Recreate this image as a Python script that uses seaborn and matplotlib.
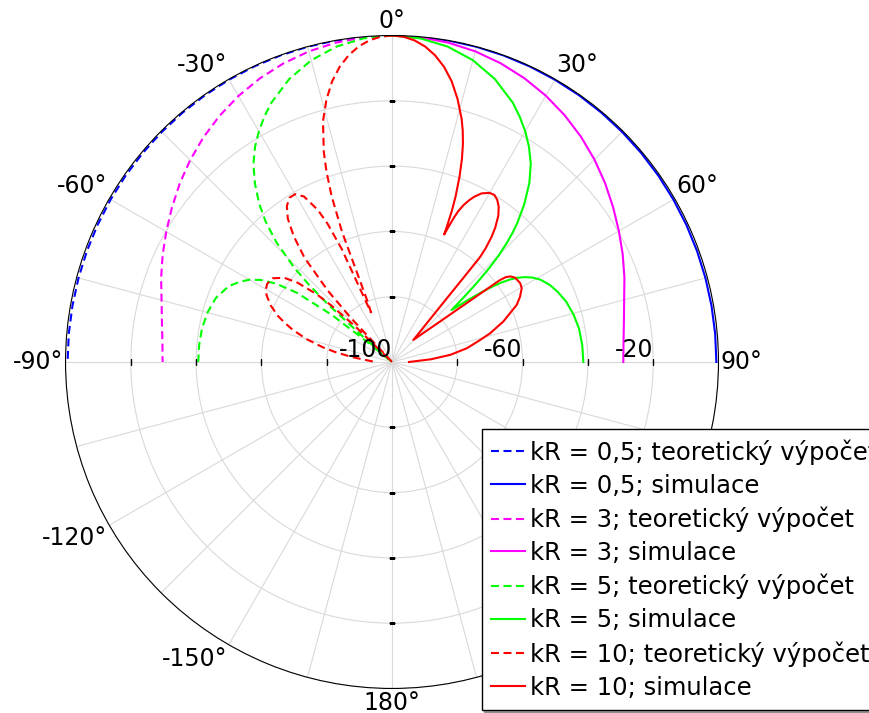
#!/usr/bin/python3

import numpy as np
import matplotlib
matplotlib.use("Agg")
import matplotlib.pyplot as plt
import seaborn as sns

# directivity in dB, theory is drawn on the left half (negative angles),
# simulation on the right half

# kR = 0,5
ang_05 = [0, 5, 10, 15, 20, 25, 30, 35, 40, 45, 50, 55, 60, 65, 70, 75, 80, 85, 90]
db_05_teo = [0.0, -0.01, -0.02, -0.04, -0.07, -0.11, -0.16, -0.21, -0.26, -0.31,
             -0.37, -0.42, -0.47, -0.52, -0.56, -0.59, -0.61, -0.62, -0.63]
db_05_sim = [0.0, -0.01, -0.02, -0.05, -0.08, -0.12, -0.17, -0.22, -0.27, -0.33,
             -0.38, -0.44, -0.49, -0.54, -0.58, -0.61, -0.63, -0.64, -0.65]

# kR = 3
ang_3 = [0, 5, 10, 15, 20, 25, 30, 35, 40, 45, 50, 55, 60, 65, 70, 75, 80, 85, 90]
db_3_teo = [0.0, -0.17, -0.69, -1.52, -2.69, -4.17, -5.92, -7.93, -10.15, -12.56,
            -15.09, -17.68, -20.16, -22.48, -24.74, -26.93, -28.44, -29.41, -29.74]
db_3_sim = [0.0, -0.17, -0.68, -1.49, -2.64, -4.09, -5.80, -7.77, -9.95, -12.31,
            -14.79, -17.33, -19.76, -22.03, -24.25, -26.39, -27.87, -28.82, -29.15]

# kR = 5
ang_5_teo = [0, 5, 10, 15, 20, 25, 27.5, 30, 32.5, 35, 37.5, 40, 42, 44, 46, 47, 48, 49,
             50, 51, 52, 54, 56, 58, 60, 62, 65, 70, 75, 80, 85, 90]
db_5_teo = [0.0, -0.48, -1.91, -4.34, -7.82, -12.45, -15.3, -18.44, -21.9, -26.0, -31.0,
            -36.7, -42.2, -49.0, -58.3, -64.7, -73.5, -88.7, -100.0, -89.8, -76.4, -63.8,
            -57.0, -52.6, -49.6, -47.5, -44.9, -42.6, -41.5, -40.9, -40.7, -40.65]
ang_5_sim = [0, 5, 10, 15, 20, 25, 27.5, 30, 32.5, 35, 37.5, 40, 42, 43, 44, 45, 46, 47,
             48, 48.9, 50, 51, 52, 53, 54, 55, 56, 57.5, 59, 61, 64, 67, 71, 75.5, 80, 85, 90]
db_5_sim = [0.0, -0.5, -1.9, -4.3, -7.8, -12.4, -15.3, -18.4, -21.9, -25.9, -30.9,
            -37.0, -42.6, -45.8, -49.5, -53.6, -58.6, -64.5, -70.5, -75.8, -72.8, -69.2,
            -65.5, -61.8, -58.6, -56.0, -53.9, -51.6, -49.8, -48.0, -46.2, -44.9, -43.5,
            -42.5, -41.8, -41.5, -41.4]

# kR = 10
ang_10_teo = [0, 2, 4, 6, 8, 10, 12, 14, 16, 18, 19, 20, 21, 22, 23, 24, 25, 26, 28, 30,
              32, 34, 36, 38, 40, 42, 43, 44, 45, 46, 47, 48, 50, 52, 55, 58, 60, 62, 65,
              68, 70, 72, 75, 78, 80, 83, 86, 90]
db_10_teo = [0.0, -0.30, -1.23, -2.79, -5.06, -8.08, -12.0, -17.07, -23.3, -32.4, -38.4,
             -45.9, -57.2, -80.3, -83.5, -62.0, -53.2, -48.2, -42.6, -40.65, -40.7, -42.4,
             -45.7, -51.1, -58.3, -70.7, -81.2, -100.0, -100.0, -84.3, -74.9, -69.1, -62.2,
             -58.1, -55.3, -54.9, -55.4, -56.5, -59.0, -62.3, -65.1, -68.0, -72.9, -78.3,
             -82.2, -87.6, -92.3, -94.9]
ang_10_sim = [0, 2, 4, 6, 8, 10, 12, 14, 16, 17, 18, 19, 20, 21, 21.6, 22.0, 22.25, 22.7,
              23.2, 23.7, 24.5, 25.5, 26.5, 28, 30, 31.5, 33, 34.5, 36, 37.5, 38.5, 39.5,
              40.0, 40.3, 40.7, 41.6, 44.1, 46.9, 49.3, 51.2, 52.2, 52.8, 53.3, 54.2, 55.6,
              58.4, 60.4, 63, 65.4, 70, 73.7, 76, 79.6, 83, 86, 90]
db_10_sim = [0.0, -0.3, -1.25, -2.85, -5.15, -8.2, -12.1, -17.0, -22.6, -25.9, -29.7,
             -34.2, -39.5, -45.6, -50.2, -54.6, -57.8, -55.1, -52.0, -49.6, -47.2, -45.1,
             -43.4, -41.5, -40.2, -40.0, -40.8, -42.3, -44.6, -48.0, -51.0, -55.0, -58.0,
             -65.6, -73.9, -82.3, -90.6, -87.4, -82.6, -74.6, -66.5, -58.5, -56.5, -55.2,
             -54.3, -53.9, -54.3, -56.0, -58.0, -63.7, -68.7, -72.2, -76.7, -82.0, -88.0,
             -94.8]

kr_labels = ["0,5", "3", "5", "10"]
colors = ["#0000ff", "#ff00ff", "#00ff00", "#ff0000"]

ring_ticks = [-80, -60, -40, -20, 0]
ring_labels = [-100, -60, -20]
angle_labels = [-150, -120, -90, -60, -30, 0, 30, 60, 90, 120, 150, 180]


def main():
    plt.rcParams["axes.unicode_minus"] = False
    plt.rcParams["font.family"] = ["DejaVu Sans"]

    fig = plt.figure(figsize=(8.69, 7.13), dpi=100)
    ax = fig.add_axes([0.0754, 0.0344, 0.7514, 0.9158], projection="polar")
    ax.set_theta_zero_location("N")
    ax.set_theta_direction(-1)

    teo = [(ang_05, db_05_teo), (ang_3, db_3_teo), (ang_5_teo, db_5_teo), (ang_10_teo, db_10_teo)]
    sim = [(ang_05, db_05_sim), (ang_3, db_3_sim), (ang_5_sim, db_5_sim), (ang_10_sim, db_10_sim)]

    for (a_t, d_t), (a_s, d_s), k, c in zip(teo, sim, kr_labels, colors):
        sns.lineplot(x=-np.deg2rad(a_t), y=np.clip(d_t, -100, 0), ax=ax, color=c,
                     linewidth=1.5, linestyle=(0, (3.8, 2.2)), sort=False,
                     estimator=None, legend=False,
                     label="kR = %s; teoretický výpočet" % k)
        sns.lineplot(x=np.deg2rad(a_s), y=np.clip(d_s, -100, 0), ax=ax, color=c,
                     linewidth=1.5, sort=False, estimator=None, legend=False,
                     label="kR = %s; simulace" % k)

    deg = np.arange(-165, 181, 15)
    ax.set_xticks(np.deg2rad(deg))
    ax.set_xticklabels([])
    ax.tick_params(axis="x", length=0)
    ax.set_xlim(-np.pi, np.pi)

    ax.set_rlim(-100, 0)
    ax.set_yticks(ring_ticks)
    ax.set_yticklabels([])
    ax.tick_params(axis="y", length=0)

    ax.grid(True, color="#d9d9d9", linewidth=0.8)
    ax.spines["polar"].set_linewidth(0.8)
    ax.spines["polar"].set_color("black")

    # angle labels sit just outside the circle, anchored by quadrant
    for d in angle_labels:
        th = np.deg2rad(d)
        s, c = np.sin(th), np.cos(th)
        ha = "left" if s > 0.01 else ("right" if s < -0.01 else "center")
        va = "bottom" if c > 0.01 else ("top" if c < -0.01 else "center")
        ax.text(th, 0.7, "%d°" % d, ha=ha, va=va, fontsize=17, clip_on=False)

    # small black marks where the rings cross the main axes
    for th, m in [(0, "_"), (np.pi, "_"), (np.pi / 2, "|"), (-np.pi / 2, "|")]:
        ax.plot([th] * 4, ring_ticks[:4], ls="none", marker=m, ms=4.5, mew=1.0, color="black")

    for r in ring_labels:
        ax.text(np.pi / 2, r, str(r), ha="right", va="bottom", fontsize=17)

    handles, labels = ax.get_legend_handles_labels()
    leg = ax.legend(handles, labels, loc="upper left",
                    bbox_to_anchor=(481.7 / 869, 1 - 429.3 / 713),
                    bbox_transform=fig.transFigure, borderaxespad=0,
                    fontsize=17.5, handlelength=1.4, handletextpad=0.2,
                    labelspacing=0.37, borderpad=0.4, fancybox=False,
                    shadow=True, framealpha=1)
    leg.set_zorder(10)
    leg.get_frame().set_edgecolor("black")
    leg.get_frame().set_linewidth(1.0)

    fig.savefig("out.png", dpi=100)


if __name__ == '__main__':
    main()
